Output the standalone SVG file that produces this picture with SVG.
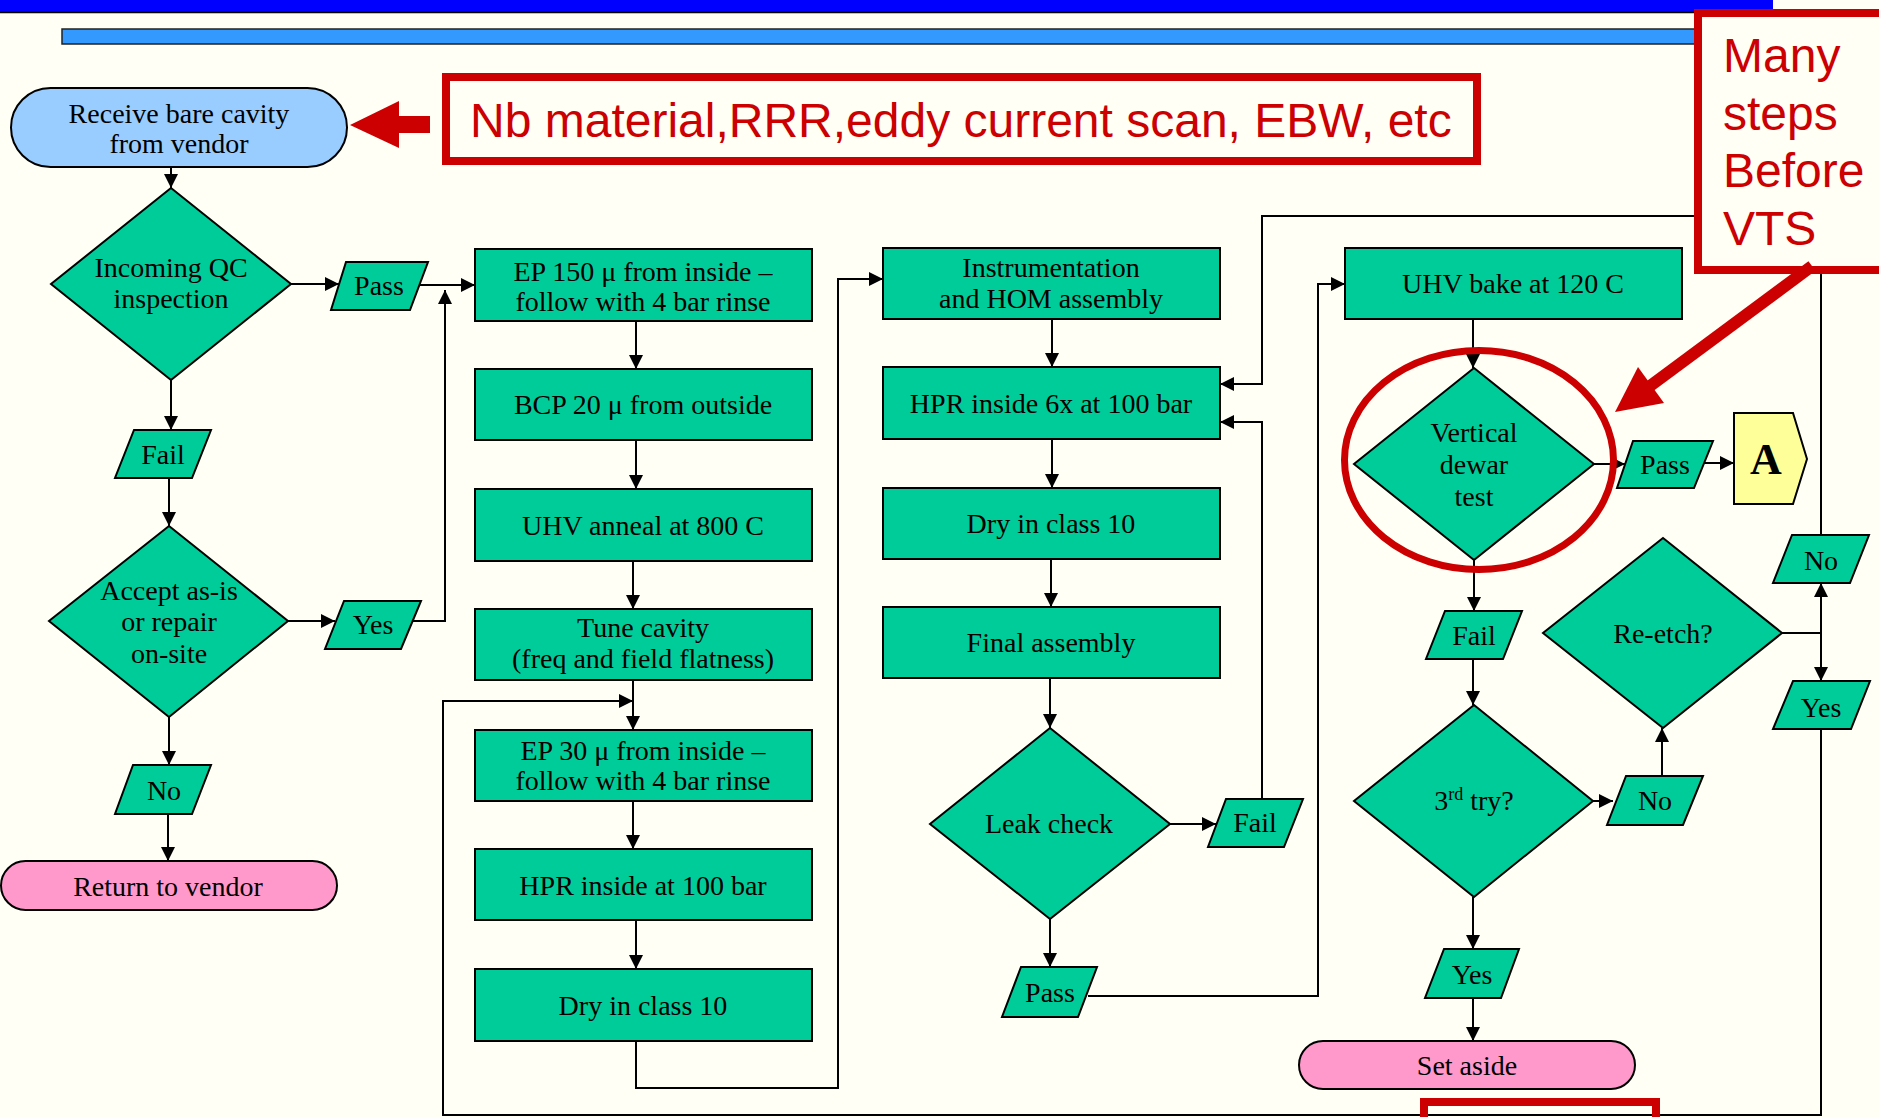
<svg xmlns="http://www.w3.org/2000/svg" width="1879" height="1117" viewBox="0 0 1879 1117">
<defs>
<marker id="ah" viewBox="0 0 10 10" refX="10" refY="5" markerWidth="14" markerHeight="14" markerUnits="userSpaceOnUse" orient="auto"><path d="M0,0 L10,5 L0,10 z" fill="#000"/></marker>
<style>
.bg{fill:#FFFFF5}
.box{fill:#00CC99;stroke:#000;stroke-width:2}
.term{stroke:#000;stroke-width:2}
.t{font-family:"Liberation Serif",serif;font-size:28px;fill:#000;text-anchor:middle}
.c{fill:none;stroke:#000;stroke-width:2}
.a{marker-end:url(#ah)}
.red{font-family:"Liberation Sans",Arial,sans-serif;font-size:48px;fill:#CC0000}
.rs{fill:none;stroke:#CC0000;stroke-width:8}
</style>
</defs>
<rect class="bg" x="0" y="0" width="1879" height="1117"/>
<rect x="0" y="0" width="1773" height="12" fill="#0000FF"/>
<line x1="0" y1="12.5" x2="1773" y2="12.5" stroke="#000" stroke-width="1.5"/>
<rect x="62" y="29" width="1640" height="15" fill="#3399FF" stroke="#222" stroke-width="1.5"/>

<g id="connectors">
<path class="c a" d="M171,167 V188"/>
<path class="c a" d="M291,284 H339"/>
<path class="c a" d="M419,285 H475"/>
<path class="c a" d="M171,380 V430"/>
<path class="c a" d="M169,478 V526"/>
<path class="c a" d="M288,621 H335"/>
<path class="c a" d="M413,621 H445 V290"/>
<path class="c a" d="M169,717 V765"/>
<path class="c a" d="M168,814 V861"/>
<path class="c a" d="M636,321 V369"/>
<path class="c a" d="M636,440 V489"/>
<path class="c a" d="M633,561 V609"/>
<path class="c a" d="M633,680 V730"/>
<path class="c a" d="M633,801 V849"/>
<path class="c a" d="M636,920 V969"/>
<path class="c a" d="M636,1041 V1088 H838 V279 H883"/>
<path class="c a" d="M1052,319 V367"/>
<path class="c a" d="M1052,439 V488"/>
<path class="c a" d="M1051,559 V607"/>
<path class="c a" d="M1050,678 V728"/>
<path class="c a" d="M1170,824 H1216"/>
<path class="c a" d="M1262,799 V422 H1220"/>
<path class="c a" d="M1050,919 V967"/>
<path class="c a" d="M1088,996 H1318 V284 H1345"/>
<path class="c a" d="M1473,319 V368"/>
<path class="c a" d="M1594,464 H1625"/>
<path class="c a" d="M1703,463 H1734"/>
<path class="c a" d="M1474,560 V611"/>
<path class="c a" d="M1473,659 V705"/>
<path class="c a" d="M1593,801 H1613"/>
<path class="c a" d="M1662,776 V728"/>
<path class="c" d="M1782,633 H1821"/>
<path class="c a" d="M1821,633 V583"/>
<path class="c a" d="M1821,633 V681"/>
<path class="c a" d="M1821,535 V216 H1262 V384 H1220"/>
<path class="c a" d="M1821,729 V1115 H443 V701 H633"/>
<path class="c a" d="M1473,897 V949"/>
<path class="c a" d="M1473,998 V1041"/>
</g>

<g id="n-receive"><rect class="term" x="11" y="88" width="336" height="79" rx="39.5" fill="#99CCFF"/><text class="t" x="179" y="123">Receive bare cavity</text><text class="t" x="179" y="153">from vendor</text></g>
<g id="n-qc"><polygon class="box" points="171,188 291,284 171,380 51,284"/><text class="t" x="171" y="277">Incoming QC</text><text class="t" x="171" y="308">inspection</text></g>
<g id="n-pass1"><polygon class="box" points="346,262 428,262 410,310 331,310"/><text class="t" x="379" y="295">Pass</text></g>
<g id="n-fail1"><polygon class="box" points="134,430 211,430 192,478 115,478"/><text class="t" x="163" y="464">Fail</text></g>
<g id="n-accept"><polygon class="box" points="169,526 288,621 169,717 49,621"/><text class="t" x="169" y="600">Accept as-is</text><text class="t" x="169" y="631">or repair</text><text class="t" x="169" y="663">on-site</text></g>
<g id="n-yes1"><polygon class="box" points="344,601 421,601 401,649 325,649"/><text class="t" x="373" y="634">Yes</text></g>
<g id="n-no1"><polygon class="box" points="133,765 211,765 192,814 115,814"/><text class="t" x="164" y="800">No</text></g>
<g id="n-return"><rect class="term" x="1" y="861" width="336" height="49" rx="24.5" fill="#FF99CC"/><text class="t" x="168" y="896">Return to vendor</text></g>

<g id="n-ep150"><rect class="box" x="475" y="249" width="337" height="72"/><text class="t" x="643" y="281">EP 150 μ from inside –</text><text class="t" x="643" y="311">follow with 4 bar rinse</text></g>
<g id="n-bcp"><rect class="box" x="475" y="369" width="337" height="71"/><text class="t" x="643" y="414">BCP 20 μ from outside</text></g>
<g id="n-anneal"><rect class="box" x="475" y="489" width="337" height="72"/><text class="t" x="643" y="535">UHV anneal at 800 C</text></g>
<g id="n-tune"><rect class="box" x="475" y="609" width="337" height="71"/><text class="t" x="643" y="637">Tune cavity</text><text class="t" x="643" y="668">(freq and field flatness)</text></g>
<g id="n-ep30"><rect class="box" x="475" y="730" width="337" height="71"/><text class="t" x="643" y="760">EP 30 μ from inside –</text><text class="t" x="643" y="790">follow with 4 bar rinse</text></g>
<g id="n-hpr"><rect class="box" x="475" y="849" width="337" height="71"/><text class="t" x="643" y="895">HPR inside at 100 bar</text></g>
<g id="n-dry1"><rect class="box" x="475" y="969" width="337" height="72"/><text class="t" x="643" y="1015">Dry in class 10</text></g>

<g id="n-instr"><rect class="box" x="883" y="248" width="337" height="71"/><text class="t" x="1051" y="277">Instrumentation</text><text class="t" x="1051" y="308">and HOM assembly</text></g>
<g id="n-hpr6"><rect class="box" x="883" y="367" width="337" height="72"/><text class="t" x="1051" y="413">HPR inside 6x at 100 bar</text></g>
<g id="n-dry2"><rect class="box" x="883" y="488" width="337" height="71"/><text class="t" x="1051" y="533">Dry in class 10</text></g>
<g id="n-final"><rect class="box" x="883" y="607" width="337" height="71"/><text class="t" x="1051" y="652">Final assembly</text></g>
<g id="n-leak"><polygon class="box" points="1050,728 1170,824 1050,919 930,824"/><text class="t" x="1049" y="833">Leak check</text></g>
<g id="n-fail2"><polygon class="box" points="1226,799 1303,799 1284,847 1208,847"/><text class="t" x="1255" y="832">Fail</text></g>
<g id="n-pass2"><polygon class="box" points="1021,967 1097,967 1078,1017 1002,1017"/><text class="t" x="1050" y="1002">Pass</text></g>

<g id="n-bake"><rect class="box" x="1345" y="248" width="337" height="71"/><text class="t" x="1513" y="293">UHV bake at 120 C</text></g>
<g id="n-dewar"><polygon class="box" points="1474,368 1594,464 1474,560 1354,464"/><text class="t" x="1474" y="442">Vertical</text><text class="t" x="1474" y="474">dewar</text><text class="t" x="1474" y="506">test</text></g>
<g id="n-pass3"><polygon class="box" points="1633,441 1713,441 1694,488 1617,488"/><text class="t" x="1665" y="474">Pass</text></g>
<g id="n-a"><polygon points="1734,413 1793,413 1807,459 1793,504 1734,504" fill="#FFFF99" stroke="#000" stroke-width="2"/><text x="1766" y="474" font-family="Liberation Serif,serif" font-size="44" font-weight="bold" text-anchor="middle">A</text></g>
<g id="n-fail3"><polygon class="box" points="1445,611 1522,611 1503,659 1426,659"/><text class="t" x="1474" y="645">Fail</text></g>
<g id="n-3rd"><polygon class="box" points="1474,705 1593,801 1474,897 1354,801"/><text class="t" x="1474" y="810">3<tspan font-size="18" dy="-10">rd</tspan><tspan dy="10"> try?</tspan></text></g>
<g id="n-no2"><polygon class="box" points="1626,776 1703,776 1683,825 1607,825"/><text class="t" x="1655" y="810">No</text></g>
<g id="n-reetch"><polygon class="box" points="1663,538 1782,633 1663,728 1543,633"/><text class="t" x="1663" y="643">Re-etch?</text></g>
<g id="n-no3"><polygon class="box" points="1792,535 1869,535 1850,583 1773,583"/><text class="t" x="1821" y="570">No</text></g>
<g id="n-yes3"><polygon class="box" points="1793,681 1870,681 1851,729 1773,729"/><text class="t" x="1821" y="717">Yes</text></g>
<g id="n-yes4"><polygon class="box" points="1444,949 1519,949 1501,998 1425,998"/><text class="t" x="1472" y="984">Yes</text></g>
<g id="n-setaside"><rect class="term" x="1299" y="1041" width="336" height="48" rx="24" fill="#FF99CC"/><text class="t" x="1467" y="1075">Set aside</text></g>

<g id="annotations">
<rect class="rs" x="446" y="77" width="1031" height="84"/>
<text class="red" x="470" y="137">Nb material,RRR,eddy current scan, EBW, etc</text>
<polygon points="350,125 399,101 399,116 430,116 430,133 399,133 399,148" fill="#CC0000"/>
<rect class="rs" x="1698" y="13" width="200" height="257" style="fill:#FFFFF5"/>
<text class="red" x="1723" y="72">Many</text>
<text class="red" x="1723" y="130">steps</text>
<text class="red" x="1723" y="187">Before</text>
<text class="red" x="1723" y="245">VTS</text>
<line x1="1812" y1="266" x2="1646" y2="389" stroke="#CC0000" stroke-width="12"/>
<polygon points="1615,412 1638,367 1664,403" fill="#CC0000"/>
<ellipse cx="1479" cy="460" rx="134.5" ry="109.5" fill="none" stroke="#CC0000" stroke-width="7"/>
<rect class="rs" x="1424" y="1102" width="232" height="40"/>
</g>
</svg>
